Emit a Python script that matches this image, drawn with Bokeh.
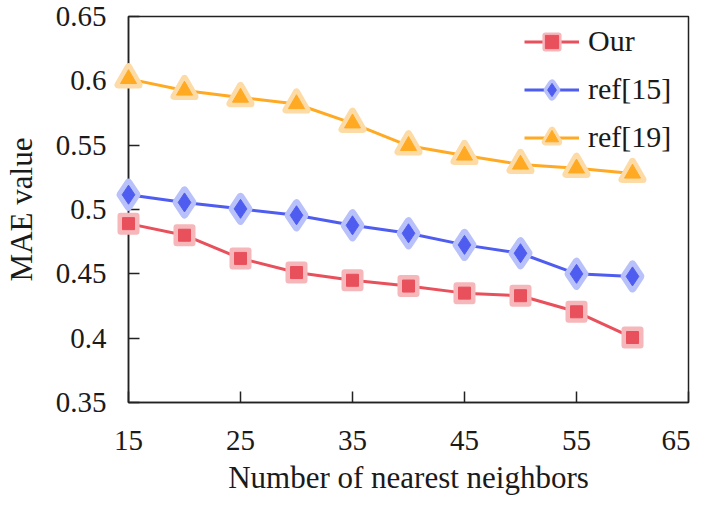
from bokeh.plotting import figure
from bokeh.models import Range1d, FixedTicker, Legend, LegendItem
from bokeh.embed import file_html
from bokeh.resources import INLINE

# ---- data ----
neighbors = [15, 20, 25, 30, 35, 40, 45, 50, 55, 60]
our = [0.489, 0.480, 0.462, 0.451, 0.445, 0.4405, 0.435, 0.433, 0.4205, 0.4005]
ref15 = [0.5115, 0.5055, 0.5005, 0.4955, 0.4877, 0.4815, 0.4725, 0.466, 0.450, 0.448]
ref19 = [0.6015, 0.5925, 0.587, 0.582, 0.567, 0.5495, 0.542, 0.535, 0.532, 0.528]
series_names = ["Our", "ref[15]", "ref[19]"]
x_ticks = [15, 25, 35, 45, 55, 65]
y_ticks = [0.35, 0.4, 0.45, 0.5, 0.55, 0.6, 0.65]
y_tick_labels = ["0.35", "0.4", "0.45", "0.5", "0.55", "0.6", "0.65"]

FONT = "Liberation Serif"

p = figure(width=690, height=497, output_backend="svg", toolbar_location=None,
           x_range=Range1d(15, 65), y_range=Range1d(0.35, 0.65),
           min_border_left=124, min_border_right=2, min_border_top=16,
           min_border_bottom=93)
p.grid.visible = False
p.outline_line_color = "#222222"
p.outline_line_width = 1.5
p.background_fill_color = "white"
p.border_fill_color = "white"

for ax in (p.xaxis[0], p.yaxis[0]):
    ax.major_tick_in = 11
    ax.major_tick_out = 0
    ax.minor_tick_line_color = None
    ax.axis_line_color = "#222222"
    ax.axis_line_width = 1.5
    ax.major_tick_line_color = "#222222"
    ax.major_tick_line_width = 1.5
    ax.major_label_text_font = FONT
    ax.major_label_text_font_size = "29px"
    ax.major_label_text_color = "#1a1a1a"
    ax.axis_label_text_font = FONT
    ax.axis_label_text_font_size = "31px"
    ax.axis_label_text_font_style = "normal"
    ax.axis_label_text_color = "#1a1a1a"

p.xaxis.ticker = FixedTicker(ticks=x_ticks)
p.yaxis.ticker = FixedTicker(ticks=y_ticks)
p.yaxis.major_label_overrides = {t: l for t, l in zip(y_ticks, y_tick_labels)}
p.xaxis.axis_label = "Number of nearest neighbors"
p.yaxis.axis_label = "MAE value"
p.xaxis.major_label_standoff = 28
p.xaxis.axis_label_standoff = 7
p.yaxis.major_label_standoff = 22
p.yaxis.axis_label_standoff = 14

styles = [
    (our, "#E8505C", "#F6B7BB", "square", 12, 10),
    (ref15, "#4F5CF0", "#B9C1FA", "diamond", 19, 13),
    (ref19, "#FFAA22", "#FDDBA6", "triangle", 16, 12),
]

items = []
for (vals, col, halo, mk, sz, hsz), name in zip(styles, series_names):
    r_line = p.line(neighbors, vals, line_color=col, line_width=3)
    r_halo = p.scatter(neighbors, vals, marker=mk, size=sz + hsz * 0.4,
                       fill_color=halo, line_color=halo, line_width=hsz * 0.6,
                       line_join="round")
    r_mk = p.scatter(neighbors, vals, marker=mk, size=sz,
                     fill_color=col, line_color=col, line_width=1)
    for r in (r_line, r_halo, r_mk):
        r.level = "overlay"
    items.append(LegendItem(label=name, renderers=[r_line, r_halo, r_mk]))

legend = Legend(items=items, location="top_right")
legend.border_line_color = None
legend.background_fill_alpha = 0
legend.label_text_font = FONT
legend.label_text_font_size = "30px"
legend.label_text_color = "#1a1a1a"
legend.glyph_width = 55
legend.glyph_height = 33
legend.label_standoff = 9
legend.label_width = 92
legend.spacing = 14
legend.padding = 8
legend.margin = 8
p.add_layout(legend)

open("out.html", "w").write(file_html(p, INLINE))
